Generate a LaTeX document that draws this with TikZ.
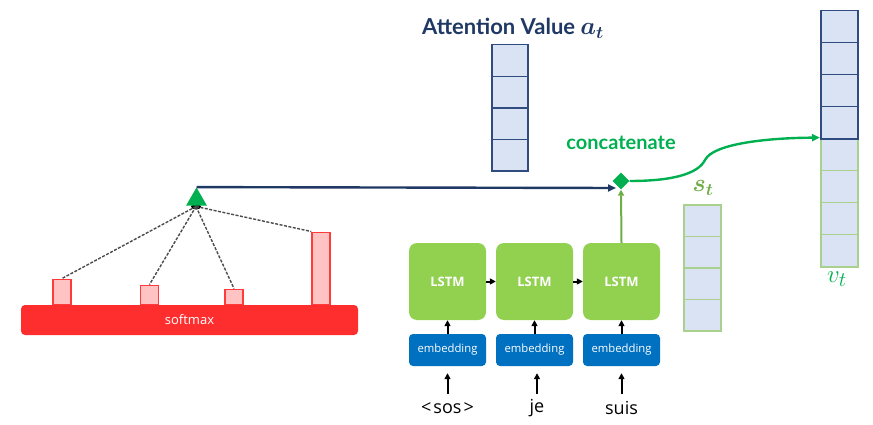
\documentclass[tikz,border=0pt]{standalone}
\usepackage{amsmath}
\usepackage{fontspec}
\setmainfont{Open Sans}
\newfontfamily\headfont{Lato}
\usetikzlibrary{arrows.meta,shapes.geometric}
\definecolor{softred}{HTML}{FF2E2E}
\definecolor{barpink}{HTML}{FFC3C3}
\definecolor{barred}{HTML}{FF3B3B}
\definecolor{trigreen}{HTML}{00B050}
\definecolor{navyblue}{HTML}{1F3864}
\definecolor{cellfill}{HTML}{DAE3F3}
\definecolor{cellnavy}{HTML}{2F4B80}
\definecolor{cellgreen}{HTML}{A9D18E}
\definecolor{lstmgreen}{HTML}{92D050}
\definecolor{embblue}{HTML}{0070C0}
\definecolor{olivegreen}{HTML}{70AD47}
\begin{document}
\begin{tikzpicture}[x=1pt,y=-1pt,
  softbar/.style={fill=softred, rounded corners=4pt, minimum width=337pt, minimum height=30pt, inner sep=0, text=white, font=\fontsize{13}{13}\selectfont},
  probbar/.style={fill=barpink, draw=barred, line width=1.5pt, minimum width=18pt, inner sep=0, anchor=south},
  dashline/.style={dashed, dash pattern=on 3pt off 1.5pt, line width=1.4pt, draw=black!70},
  atcell/.style={fill=cellfill, draw=cellnavy, line width=1.5pt, minimum width=36pt, minimum height=31.6pt, inner sep=0, anchor=north west},
  stcell/.style={fill=cellfill, draw=cellgreen, line width=1.5pt, minimum width=37pt, minimum height=31.5pt, inner sep=0, anchor=north west},
  lstmbox/.style={fill=lstmgreen, rounded corners=8pt, minimum width=77pt, minimum height=77pt, inner sep=0, text=white, font=\bfseries\fontsize{13}{13}\selectfont},
  embbox/.style={fill=embblue, rounded corners=4pt, minimum width=77pt, minimum height=32pt, inner sep=0, text=white, font=\fontsize{11.3}{11.3}\selectfont},
  word/.style={font=\fontsize{18}{18}\selectfont, inner sep=0},
  blkarrow/.style={line width=2pt, -{Triangle[length=6pt,width=6pt]}}
]
\useasboundingbox (0,0) rectangle (873,425);

% softmax part
\node[softbar] (softmax) at (189.5,320) {softmax};
\node[probbar, minimum height=25pt] (b1) at (62,305) {};
\node[probbar, minimum height=19pt] (b2) at (149.5,305) {};
\node[probbar, minimum height=15pt] (b3) at (234,305) {};
\node[probbar, minimum height=72pt] (b4) at (321,305) {};
\node[ellipse, fill=black, minimum width=10pt, minimum height=6pt, inner sep=0] (dot) at (196,206.5) {};
\draw[dashline] (dot.center) -- (b1.north);
\draw[dashline] (dot.center) -- (b2.north);
\draw[dashline] (dot.center) -- (b3.north);
\draw[dashline] (dot.center) -- (b4.north west);
\node[regular polygon, regular polygon sides=3, fill=trigreen, minimum size=24pt, inner sep=0] (tri) at (196.5,199.5) {};

% attention value vector
\node[font=\headfont\bfseries\fontsize{22}{22}\selectfont, text=navyblue] (attn) at (513,28) {Attention Value \fontsize{26}{26}\selectfont$\boldsymbol{a_t}$};
\foreach \i in {0,...,3} {
  \node[atcell] (a\i) at (491,{44+\i*31.6}) {};
}

% concatenate
\node[diamond, fill=trigreen, minimum size=17pt, inner sep=0] (cat) at (621,181) {};
\node[font=\headfont\bfseries\fontsize{20}{20}\selectfont, text=trigreen] (cattext) at (621,143) {concatenate};
\coordinate (navyend) at (616,188);
\draw[navyblue, line width=2.4pt, -{Triangle[length=8pt,width=7pt]}] (tri.north) -- (navyend);

% s_t vector
\node[text=olivegreen, font=\fontsize{24}{24}\selectfont] (stlabel) at (703,188) {$\boldsymbol{s_t}$};
\foreach \i in {0,...,3} {
  \node[stcell] (s\i) at (683,{204+\i*31.5}) {};
}

% v_t vector
\foreach \i in {0,...,3} {
  \node[atcell, minimum width=37pt, minimum height=31.9pt] (v\i) at (820,{10+\i*31.9}) {};
}
\foreach \i in {4,...,7} {
  \node[stcell, minimum height=32.1pt] (v\i) at (820,{137.6+(\i-4)*32.1}) {};
}
\draw[cellnavy, line width=1.5pt] (v3.south west) -- (v3.south east);
\node[text=trigreen, font=\fontsize{31}{31}\selectfont] (vtlabel) at (837,279) {$v_t$};
\draw[trigreen, line width=2.4pt, -{Triangle[length=8pt,width=7pt]}] (cat.east) .. controls (672,181) and (698,174) .. (705,160) .. controls (713,144) and (765,138) .. (v4.north west);

% LSTM chain
\node[lstmbox] (l1) at (447.5,281.5) {LSTM};
\node[lstmbox] (l2) at (534.5,281.5) {LSTM};
\node[lstmbox] (l3) at (621.5,281.5) {LSTM};
\draw[blkarrow] (l1.east) -- (l2.west);
\draw[blkarrow] (l2.east) -- (l3.west);
\draw[olivegreen, line width=2pt, -{Triangle[length=6pt,width=6pt]}] (l3.north) -- (cat.south);

\node[embbox] (e1) at (447.5,350) {embedding};
\node[embbox] (e2) at (534.5,350) {embedding};
\node[embbox] (e3) at (621.5,350) {embedding};
\draw[blkarrow] (e1.north) -- (l1.south);
\draw[blkarrow] (e2.north) -- (l2.south);
\draw[blkarrow] (e3.north) -- (l3.south);

\node[word] (w1) at (447.5,408) {<\kern2pt sos\kern2pt>};
\node[word] (w2) at (537,408) {je};
\node[word] (w3) at (621.5,408) {suis};
\coordinate (w1top) at (447.5,394);
\coordinate (w2top) at (537,394);
\coordinate (w3top) at (621.5,394);
\draw[blkarrow, shorten >=7pt] (w1top) -- (e1.south);
\draw[blkarrow, shorten >=7pt] (w2top) -- (e2.south -| w2top);
\draw[blkarrow, shorten >=7pt] (w3top) -- (e3.south);
\end{tikzpicture}
\end{document}
